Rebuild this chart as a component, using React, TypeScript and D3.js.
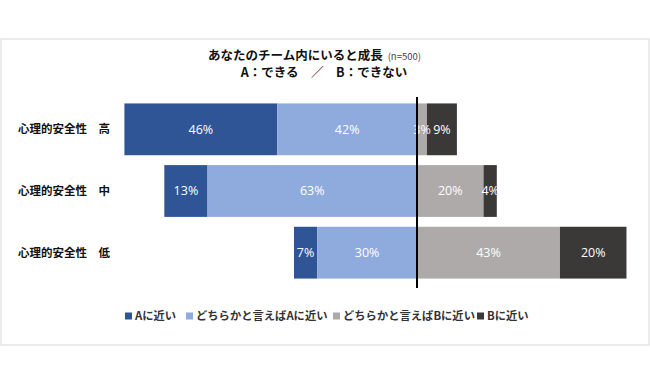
import React from "react";
import * as d3 from "d3";

const categories = ["心理的安全性　高", "心理的安全性　中", "心理的安全性　低"];
const seriesNames = ["Aに近い", "どちらかと言えばAに近い", "どちらかと言えばBに近い", "Bに近い"];
const aNear = [46, 13, 7];
const aSomewhat = [42, 63, 30];
const bSomewhat = [3, 20, 43];
const bNear = [9, 4, 20];
const colors = ["#2F5597", "#8FAADC", "#AEAAAA", "#3B3838"];

const W = 650;
const H = 380;

export default function App() {
  const x = d3.scaleLinear().domain([-100, 100]).range([84.5, 749.5]);
  const y = d3
    .scaleBand<string>()
    .domain(categories)
    .range([98.5, 283.5])
    .paddingInner(0.16)
    .paddingOuter(0.08);

  const rows = categories.map((c, i) => {
    const vals = [aNear[i], aSomewhat[i], bSomewhat[i], bNear[i]];
    const segs: { x0: number; x1: number; v: number; k: number }[] = [];
    const left = -(vals[0] + vals[1]);
    segs.push({ x0: left, x1: left + vals[0], v: vals[0], k: 0 });
    segs.push({ x0: left + vals[0], x1: 0, v: vals[1], k: 1 });
    segs.push({ x0: 0, x1: vals[2], v: vals[2], k: 2 });
    segs.push({ x0: vals[2], x1: vals[2] + vals[3], v: vals[3], k: 3 });
    return { c, segs };
  });

  const legendX = [125, 186, 333, 477];
  const legendY = 316;

  return (
    <svg
      width={W}
      height={H}
      style={{ position: "absolute", left: 0, top: 0, background: "#fff" }}
      fontFamily="'Noto Sans CJK JP', 'Noto Sans', sans-serif"
    >
      <rect x={1} y={39} width={648} height={306} fill="#fff" stroke="#d9d9d9" strokeWidth={1} />
      <text x={208} y={59.5} fontSize={12.5} fontWeight="bold" fill="#111">
        あなたのチーム内にいると成長
        <tspan fontSize={9.5} fontWeight="normal" fill="#444" dx={5}>
          (n=500)
        </tspan>
      </text>
      <text x={324} y={76.5} fontSize={12.5} fontWeight="bold" fill="#111" textAnchor="middle">
        A：できる　／　B：できない
      </text>

      {rows.map((r) => (
        <g key={r.c}>
          <text
            x={18}
            y={(y(r.c) as number) + y.bandwidth() / 2}
            dy="0.35em"
            fontSize={11.5}
            fontWeight="bold"
            fill="#111"
          >
            {r.c}
          </text>
          {r.segs.map((s) => (
            <rect
              key={s.k}
              x={x(s.x0)}
              y={y(r.c)}
              width={x(s.x1) - x(s.x0)}
              height={y.bandwidth()}
              fill={colors[s.k]}
            />
          ))}
          {r.segs.map((s) => (
            <text
              key={"t" + s.k}
              x={(x(s.x0) + x(s.x1)) / 2}
              y={(y(r.c) as number) + y.bandwidth() / 2}
              dy="0.35em"
              textAnchor="middle"
              fontSize={12.5}
              fontFamily="'Open Sans', sans-serif"
              fill="#fff"
            >
              {s.v}%
            </text>
          ))}
        </g>
      ))}

      <line x1={x(0)} x2={x(0)} y1={97} y2={288} stroke="#000" strokeWidth={2} />

      {seriesNames.map((n, i) => (
        <g key={n}>
          <rect x={legendX[i]} y={legendY - 3.5} width={7} height={7} fill={colors[i]} />
          <text x={legendX[i] + 10} y={legendY} dy="0.35em" fontSize={11.3} fontWeight="bold" fill="#333">
            {n}
          </text>
        </g>
      ))}
    </svg>
  );
}
